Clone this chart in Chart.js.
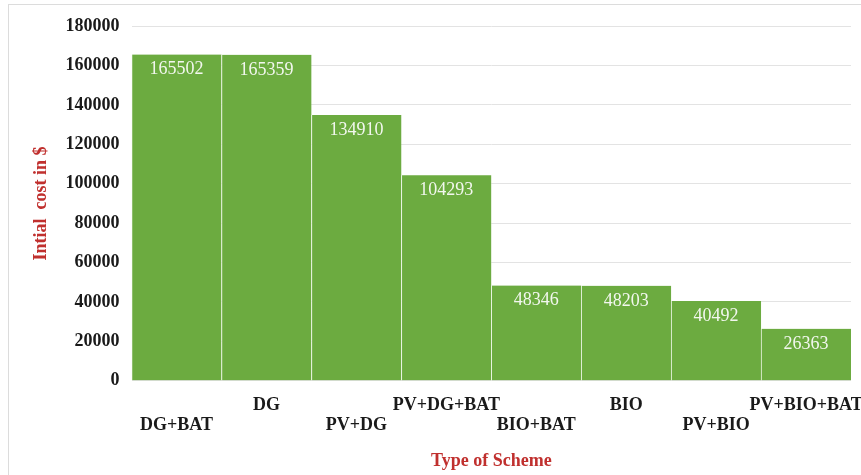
<!DOCTYPE html>
<html>
<head>
<meta charset="utf-8">
<script src="https://cdn.jsdelivr.net/npm/chart.js@4"></script>
<style>
  html, body { margin: 0; padding: 0; background: #fff; }
  #wrap { position: relative; width: 861px; height: 475px; }
  #frame { position: absolute; left: 8px; top: 4px; width: 870px; height: 480px; border: 1px solid #dcdcdc; pointer-events: none; }
  canvas { position: absolute; left: 0; top: 0; }
</style>
</head>
<body>
<div id="wrap">
  <canvas id="c" width="861" height="475"></canvas>
  <div id="frame"></div>
</div>
<script>
const categories = ['DG+BAT', 'DG', 'PV+DG', 'PV+DG+BAT', 'BIO+BAT', 'BIO', 'PV+BIO', 'PV+BIO+BAT'];
const initialCost = [165502, 165359, 134910, 104293, 48346, 48203, 40492, 26363];
const yTitle = 'Intial  cost in $';
const xTitle = 'Type of Scheme';

const SERIF = "'Liberation Serif', 'Times New Roman', serif";
const RED = '#c0302e';

const valueLabels = {
  id: 'valueLabels',
  afterDatasetsDraw(chart) {
    const ctx = chart.ctx;
    const meta = chart.getDatasetMeta(0);
    ctx.save();
    ctx.font = "18px " + SERIF;
    ctx.fillStyle = '#f2f7ee';
    ctx.textAlign = 'center';
    ctx.textBaseline = 'middle';
    meta.data.forEach((bar, i) => {
      ctx.fillText(String(chart.data.datasets[0].data[i]), bar.x, bar.y + 15);
    });
    ctx.restore();
  }
};

new Chart(document.getElementById('c'), {
  type: 'bar',
  data: {
    labels: categories,
    datasets: [{
      data: initialCost,
      backgroundColor: '#6cab40',
      borderColor: 'rgba(235,245,228,0.9)',
      borderWidth: { left: 1, right: 0, top: 0, bottom: 0 },
      borderSkipped: false,
      barPercentage: 1,
      categoryPercentage: 1
    }]
  },
  options: {
    responsive: false,
    animation: false,
    events: [],
    layout: { padding: { left: 31, right: 10, top: 26, bottom: 3 } },
    plugins: { legend: { display: false }, tooltip: { enabled: false } },
    scales: {
      x: {
        afterFit(scale) { scale.paddingRight = 0; scale.paddingLeft = 0; },
        grid: { display: false, drawTicks: false },
        border: { display: false },
        ticks: {
          autoSkip: false,
          maxRotation: 0,
          minRotation: 0,
          padding: 15,
          color: '#1a1a1a',
          font: { family: SERIF, size: 18, weight: 'bold', lineHeight: 1.1 },
          callback: function (value, index) {
            const name = categories[index];
            return index % 2 === 0 ? ['', name] : [name, ''];
          }
        },
        title: {
          display: true,
          text: xTitle,
          color: RED,
          font: { family: SERIF, size: 18, weight: 'bold' },
          padding: { top: 0, bottom: 0 }
        }
      },
      y: {
        min: 0,
        max: 180000,
        grid: { color: '#e3e3e3', lineWidth: 1, drawTicks: false },
        border: { display: false },
        ticks: {
          stepSize: 20000,
          padding: 12,
          color: '#1a1a1a',
          font: { family: SERIF, size: 18, weight: 'bold' },
          callback: function (value) { return String(value); }
        },
        title: {
          display: true,
          text: yTitle,
          color: RED,
          font: { family: SERIF, size: 18, weight: 'bold' },
          padding: { top: 0, bottom: 1 }
        }
      }
    }
  },
  plugins: [valueLabels]
});
</script>
</body>
</html>
